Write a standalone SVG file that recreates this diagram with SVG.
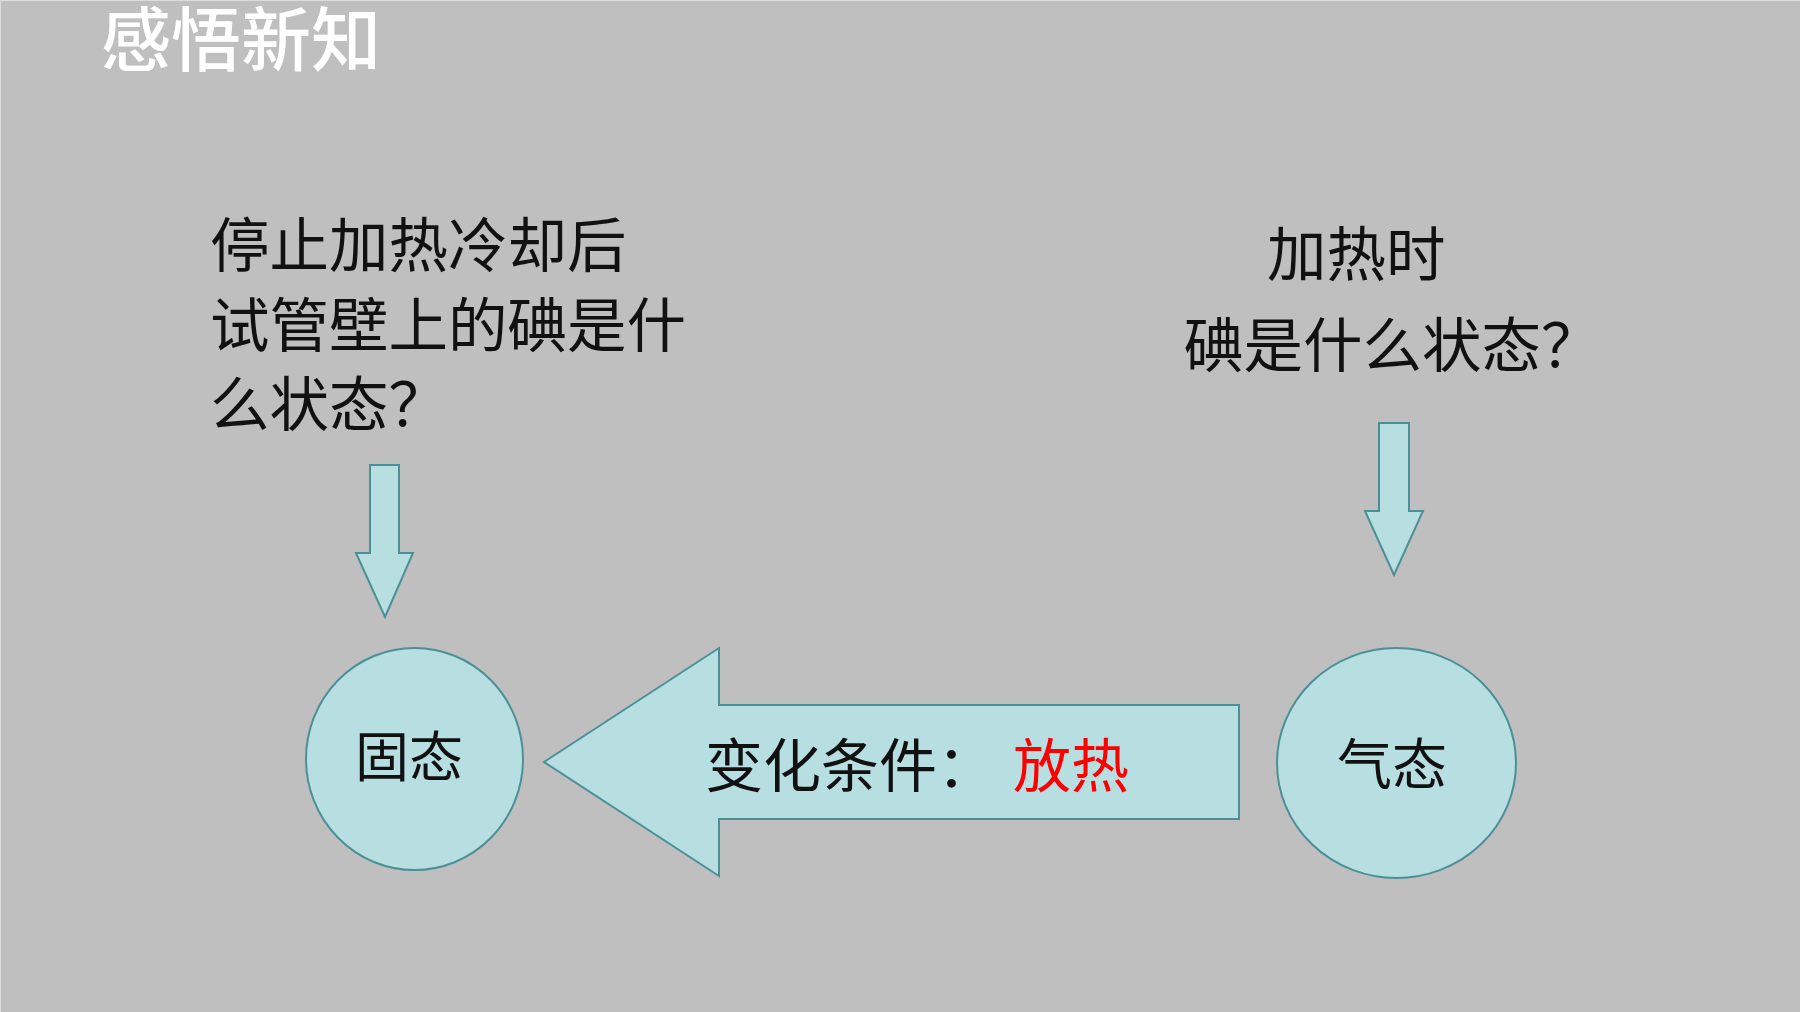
<svg xmlns="http://www.w3.org/2000/svg" width="1800" height="1012" viewBox="0 0 1800 1012">
  <style>
    .t { font-family: "Noto Sans CJK SC", "Noto Sans", sans-serif; fill: #111111; }
    .shape { fill: #B7DFE2; stroke: #4C9097; stroke-width: 2; stroke-linejoin: miter; }
  </style>
  <rect x="0" y="0" width="1800" height="1012" fill="#BFBFBF"/>
  <line x1="0.5" y1="0" x2="0.5" y2="1012" stroke="#DCDCDC" stroke-width="1"/>
  <line x1="0" y1="0.5" x2="1800" y2="0.5" stroke="#DCDCDC" stroke-width="1"/>

  <g id="title">
    <text x="101" y="66" font-size="70" font-weight="500" style="font-family: 'Noto Sans CJK SC', sans-serif; fill: #FFFFFF;">感悟新知</text>
  </g>

  <g id="question-left">
    <text class="t" font-size="59.5">
      <tspan x="210" y="267">停止加热冷却后</tspan>
      <tspan x="210" y="347">试管壁上的碘是什</tspan>
      <tspan x="210" y="426">么状态？</tspan>
    </text>
  </g>

  <g id="question-right">
    <text class="t" font-size="59.5">
      <tspan x="1267" y="276">加热时</tspan>
      <tspan x="1184" y="367">碘是什么状态？</tspan>
    </text>
  </g>

  <g id="connectors">
    <polygon id="arrow-left-down" class="shape" points="370,465 399,465 399,553 413,553 385,617 356,553 370,553"/>
    <polygon id="arrow-right-down" class="shape" points="1379,423 1409,423 1409,511 1423,511 1394,575 1365,511 1379,511"/>
    <g id="arrow-change">
      <polygon class="shape" points="544,762 719,648 719,705 1239,705 1239,819 719,819 719,876"/>
      <text class="t" font-size="58" y="787"><tspan x="705">变化条件：</tspan><tspan x="1013" fill="#FF0000">放热</tspan></text>
    </g>
  </g>

  <g id="node-solid">
    <ellipse class="shape" cx="414.5" cy="759" rx="108.5" ry="111"/>
    <text class="t" x="409" y="777" font-size="54" text-anchor="middle">固态</text>
  </g>

  <g id="node-gas">
    <ellipse class="shape" cx="1396.5" cy="763" rx="119.5" ry="115"/>
    <text class="t" x="1392" y="784" font-size="55" text-anchor="middle">气态</text>
  </g>
</svg>
